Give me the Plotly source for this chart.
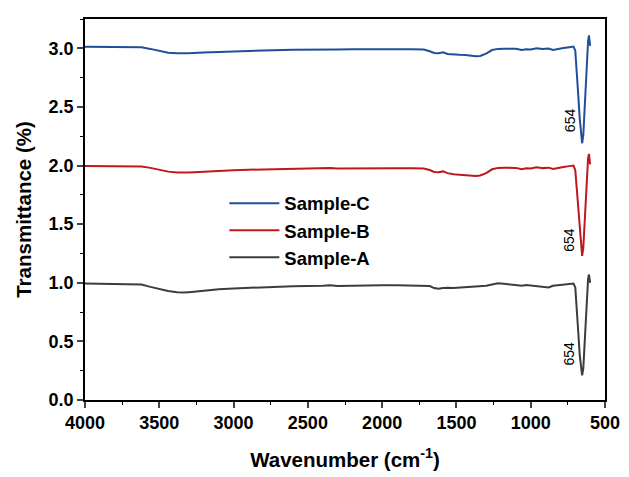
import plotly.graph_objects as go

# Wavenumber (cm^-1) sample points shared by all three spectra
wavenumber = [4000, 3900, 3800, 3700, 3620, 3560, 3500, 3440, 3380, 3340, 3300, 3200,
              3100, 3000, 2800, 2600, 2400, 2350, 2300, 2200, 2100, 2000, 1900, 1800,
              1720, 1680, 1650, 1620, 1590, 1560, 1520, 1480, 1440, 1400, 1370, 1340,
              1300, 1260, 1220, 1180, 1140, 1100, 1060, 1030, 1000, 960, 920, 880,
              850, 820, 780, 740, 712, 700, 690, 680, 670, 662, 654, 646, 638, 630,
              622, 614, 608, 604, 600]

sample_c = [3.013, 3.012, 3.013, 3.012, 3.008, 2.995, 2.978, 2.963, 2.957, 2.956, 2.958, 2.965,
            2.970, 2.975, 2.982, 2.988, 2.993, 2.995, 2.990, 2.992, 2.994, 2.993, 2.992, 2.992,
            2.990, 2.975, 2.960, 2.958, 2.966, 2.952, 2.945, 2.944, 2.943, 2.938, 2.932, 2.935,
            2.955, 2.985, 2.995, 2.997, 2.995, 2.996, 2.985, 2.992, 2.990, 3.000, 2.995, 2.998,
            2.985, 2.995, 3.002, 3.010, 3.015, 2.980, 2.820, 2.600, 2.400, 2.250, 2.190, 2.260,
            2.450, 2.700, 2.920, 3.060, 3.110, 3.060, 3.020]

sample_b = [1.997, 1.996, 1.997, 1.996, 1.992, 1.980, 1.963, 1.948, 1.940, 1.937, 1.940, 1.948,
            1.955, 1.960, 1.967, 1.973, 1.978, 1.980, 1.975, 1.977, 1.979, 1.978, 1.977, 1.977,
            1.975, 1.962, 1.945, 1.943, 1.950, 1.935, 1.925, 1.922, 1.920, 1.915, 1.910, 1.915,
            1.935, 1.968, 1.980, 1.982, 1.978, 1.980, 1.968, 1.976, 1.975, 1.985, 1.978, 1.982,
            1.970, 1.980, 1.988, 1.995, 2.000, 1.960, 1.800, 1.600, 1.420, 1.290, 1.230, 1.300,
            1.480, 1.720, 1.930, 2.060, 2.100, 2.050, 2.010]

sample_a = [0.994, 0.992, 0.990, 0.990, 0.985, 0.965, 0.945, 0.930, 0.920, 0.916, 0.920, 0.935,
            0.945, 0.952, 0.962, 0.970, 0.975, 0.978, 0.972, 0.976, 0.978, 0.978, 0.979, 0.978,
            0.978, 0.972, 0.955, 0.950, 0.955, 0.958, 0.955, 0.958, 0.962, 0.965, 0.968, 0.972,
            0.975, 0.985, 0.995, 0.992, 0.985, 0.982, 0.975, 0.980, 0.975, 0.970, 0.965, 0.960,
            0.975, 0.980, 0.985, 0.990, 0.994, 0.960, 0.800, 0.580, 0.380, 0.260, 0.210, 0.270,
            0.450, 0.700, 0.920, 1.030, 1.070, 1.030, 1.000]

series_names = ["Sample-C", "Sample-B", "Sample-A"]
series_values = [sample_c, sample_b, sample_a]
series_colors = ["#1f4f99", "#c0161c", "#3c3c3c"]

peak_label = "654"
peak_label_y = [2.39, 1.37, 0.40]
peak_label_x = 740

y_tick_vals = [0.0, 0.5, 1.0, 1.5, 2.0, 2.5, 3.0]
x_tick_vals = [4000, 3500, 3000, 2500, 2000, 1500, 1000, 500]

for v in series_values:
    assert len(v) == len(wavenumber)

fig = go.Figure()
for name, vals, col in zip(series_names, series_values, series_colors):
    fig.add_trace(go.Scatter(x=wavenumber, y=vals, mode="lines", name=name,
                             legendgroup=name,
                             line=dict(color=col, width=2)))

for yy in peak_label_y:
    fig.add_annotation(x=peak_label_x, y=yy, text=peak_label, textangle=-90,
                       showarrow=False, font=dict(family="Arial", size=14, color="black"))

fig.update_layout(
    width=621, height=469,
    margin=dict(l=77, r=17, t=9, b=75),
    plot_bgcolor="white", paper_bgcolor="white",
    font=dict(family="Arial", color="black"),
    showlegend=True,
    legend=dict(x=0.268, y=0.565, xanchor="left", yanchor="top",
                bgcolor="rgba(0,0,0,0)", traceorder="grouped", tracegroupgap=0,
                itemwidth=50,
                font=dict(family="Arial", size=18.5, color="black", weight="bold")),
    xaxis=dict(range=[4000, 500], tickvals=x_tick_vals, ticks="outside", ticklen=6,
               tickwidth=1.5, linecolor="black", linewidth=1.5, mirror=True,
               showgrid=False, zeroline=False,
               tickfont=dict(family="Arial", size=18, color="black", weight="bold"),
               minor=dict(dtick=250, ticks="outside", ticklen=3, tickcolor="black", tickwidth=1.2),
               title=dict(text="Wavenumber (cm<sup>-1</sup>)", standoff=20,
                          font=dict(family="Arial", size=20.5, color="black", weight="bold"))),
    yaxis=dict(range=[0, 3.25], tickvals=y_tick_vals, tickformat=".1f", ticks="outside",
               ticklen=6, tickwidth=1.5, linecolor="black", linewidth=1.5, mirror=True,
               showgrid=False, zeroline=False,
               tickfont=dict(family="Arial", size=18, color="black", weight="bold"),
               minor=dict(dtick=0.25, ticks="outside", ticklen=3, tickcolor="black", tickwidth=1.2),
               title=dict(text="Transmittance (%)", standoff=11,
                          font=dict(family="Arial", size=20.5, color="black", weight="bold"))),
)

fig.write_html("out.html")
